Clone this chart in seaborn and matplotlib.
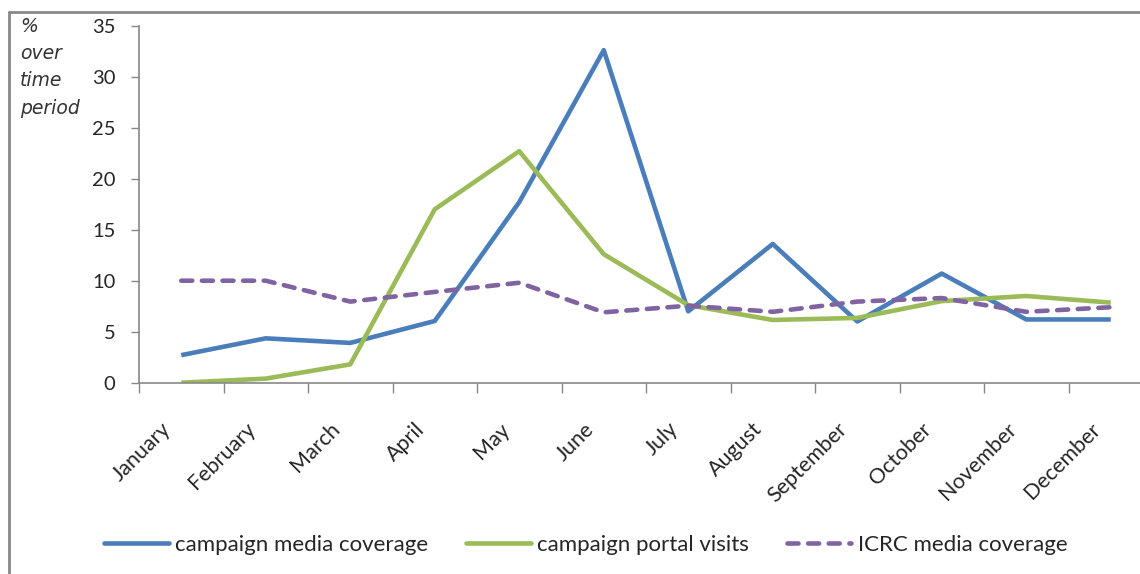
import matplotlib
matplotlib.use("Agg")
import matplotlib.pyplot as plt
import seaborn as sns
import pandas as pd
from matplotlib.lines import Line2D

months = ["January", "February", "March", "April", "May", "June",
          "July", "August", "September", "October", "November", "December"]
campaign_media = [2.7, 4.35, 3.9, 6.05, 17.7, 32.6, 7.0, 13.6, 6.0, 10.7, 6.2, 6.2]
campaign_portal = [0.0, 0.4, 1.8, 17.0, 22.7, 12.6, 7.6, 6.15, 6.35, 8.0, 8.5, 7.85]
icrc_media = [10.0, 10.0, 7.95, 8.9, 9.8, 6.9, 7.55, 6.95, 7.95, 8.3, 6.95, 7.4]
y_ticks = [0, 5, 10, 15, 20, 25, 30, 35]
series_names = ["campaign media coverage", "campaign portal visits", "ICRC media coverage"]

sns.set_theme(style="white")
plt.rcParams['font.family'] = ['Lato', 'DejaVu Sans']

n = len(months)
df = pd.DataFrame({
    "month": months * 3,
    "pos": [i + 0.5 for i in range(n)] * 3,
    "value": campaign_media + campaign_portal + icrc_media,
    "series": [series_names[0]] * n + [series_names[1]] * n + [series_names[2]] * n,
})

colors = ["#4A7EBB", "#9BBB59", "#8064A2"]
styles = ["-", "-", (0, (2.4, 2.1))]
LW = 3.3

fig = plt.figure(figsize=(11.4, 5.74), dpi=100)
ax = fig.add_axes([139 / 1140, 1 - 382.7 / 574, 1014 / 1140, 357 / 574])

for name, col, ls in zip(series_names, colors, styles):
    sub = df[df["series"] == name]
    sns.lineplot(data=sub, x="pos", y="value", ax=ax, color=col, linewidth=LW,
                 linestyle=ls, legend=False, solid_capstyle="butt", dash_capstyle="round")

ax.set_xlim(0, n)
ax.set_ylim(0, 35)
ax.set_yticks(y_ticks)
ax.set_yticklabels([str(t) for t in y_ticks], fontsize=14.5)
ax.set_xticks(list(range(n + 1)))
ax.set_xticklabels([""] * (n + 1))
# label anchors nudged left of the category centre (Excel-like placement)
label_shift = 0.24
ax.set_xticks([i + 0.5 - label_shift for i in range(n)], minor=True)
ax.set_xticklabels(months, minor=True, rotation=45, ha="right", va="top",
                   rotation_mode="anchor", fontsize=15.5)
ax.tick_params(axis="x", which="major", direction="out", length=7, width=1, color="#888888", bottom=True)
ax.tick_params(axis="x", which="minor", length=0, pad=26)
ax.tick_params(axis="y", direction="out", length=6, width=1, color="#888888", left=True, pad=11)
ax.set_xlabel("")
ax.set_ylabel("")
for s in ["top", "right"]:
    ax.spines[s].set_visible(False)
for s in ["left", "bottom"]:
    ax.spines[s].set_color("#888888")
    ax.spines[s].set_linewidth(1.2)

fig.text(20 / 1140, 1 - 17 / 574, "%\nover\ntime\nperiod", fontsize=13.5, style="italic",
         color="#333333", va="top", ha="left", linespacing=1.55, family=['DejaVu Sans'])

handles = [Line2D([0], [0], color=c, lw=LW, linestyle=ls, dash_capstyle="round")
           for c, ls in zip(colors, styles)]
fig.legend(handles, series_names, loc="center", bbox_to_anchor=(586 / 1140, 1 - 545 / 574),
           ncol=3, frameon=False, fontsize=16, handlelength=2.9, columnspacing=1.7,
           handletextpad=0.3)

# figure border (left and top visible)
fig.add_artist(Line2D([9 / 1140, 9 / 1140], [0, 1 - 12 / 574], transform=fig.transFigure,
                      color="#888888", lw=2))
fig.add_artist(Line2D([9 / 1140, 1], [1 - 12 / 574, 1 - 12 / 574], transform=fig.transFigure,
                      color="#888888", lw=2))

fig.savefig("out.png", dpi=100)
